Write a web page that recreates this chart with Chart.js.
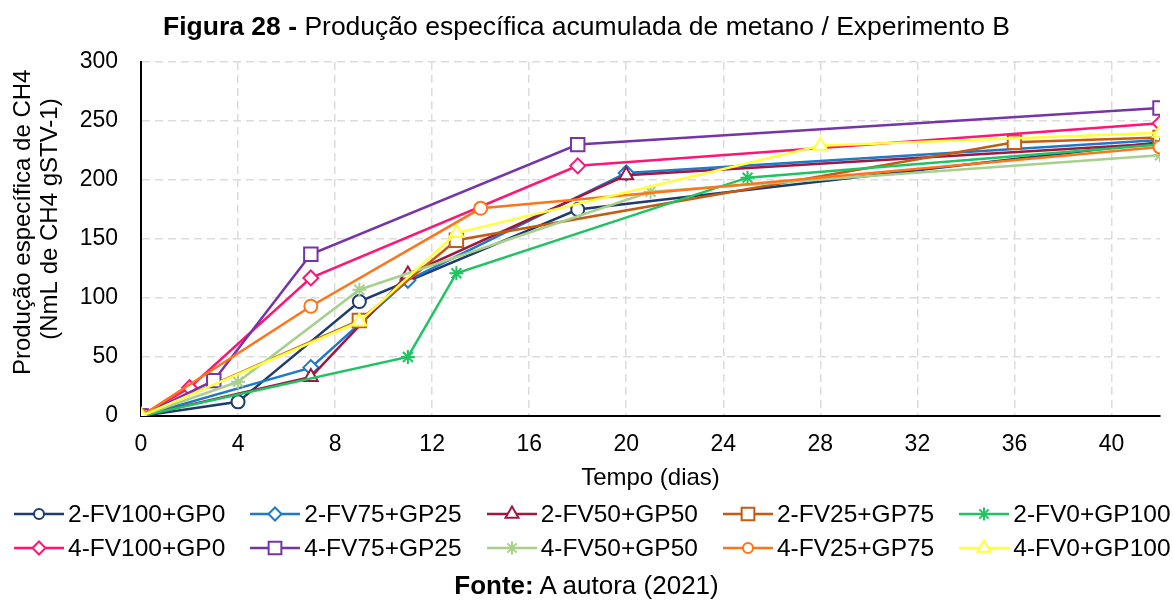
<!DOCTYPE html>
<html lang="pt">
<head>
<meta charset="utf-8">
<title>Figura 28</title>
<script src="https://cdn.jsdelivr.net/npm/chart.js@4.4.0/dist/chart.umd.min.js"></script>
<style>
  body { margin: 0; background: #fff; }
  #wrap { position: relative; width: 1173px; height: 601px; font-family: "Liberation Sans", Arial, sans-serif; color: #000; }
  #titulo { position: absolute; top: 13px; left: 0; width: 100%; text-align: center; font-size: 26.5px; line-height: 26px; }
  #fonte { position: absolute; top: 572px; left: 0; width: 100%; text-align: center; font-size: 26px; line-height: 26px; }
  canvas#grafico { position: absolute; left: 0; top: 0; }
  #legenda { position: absolute; left: 14px; top: 502px; font-size: 24.5px; }
  .linha { display: flex; height: 24px; line-height: 24px; margin-bottom: 10px; white-space: nowrap; }
  .item { display: flex; align-items: center; margin-right: 25px; }
  .item canvas { margin-right: 4px; }
</style>
</head>
<body>
<div id="wrap">
  <canvas id="grafico" width="1173" height="601"></canvas>
  <div id="titulo"><b>Figura 28 -</b> Produção específica acumulada de metano / Experimento B</div>
  <div id="legenda"></div>
  <div id="fonte"><b>Fonte:</b> A autora (2021)</div>
</div>
<script>
// dias de medição (eixo x)
var dias = [0, 2, 3, 4, 7, 9, 11, 13, 14, 18, 20, 21, 25, 28, 36, 42];
var n = null;

// produção acumulada (NmL CH4 / gSTV) por ensaio; null = sem medição naquele dia
var fv100gp0_2 = [0, n, n, 12, n, 97, n, n, n, 175, n, n, n, n, n, 232];
var fv75gp25_2 = [0, n, n, n, 41, n, 115, n, n, n, 206, n, n, n, n, 234];
var fv50gp50_2 = [0, n, n, n, 33, n, 120, n, n, n, 204, n, n, n, n, 231];
var fv25gp75_2 = [0, n, n, n, n, 81, n, 149, n, n, n, n, n, n, 232, 236];
var fv0gp100_2 = [0, n, n, n, n, n, 50, 121, n, n, n, n, 202, n, n, 230];
var fv100gp0_4 = [0, 24, n, n, 117, n, n, n, n, 212, n, n, n, n, n, 248];
var fv75gp25_4 = [0, n, 30, n, 137, n, n, n, n, 230, n, n, n, n, n, 261];
var fv50gp50_4 = [0, n, n, 29, n, 107, n, n, n, n, n, 190, n, n, n, 221];
var fv25gp75_4 = [0, n, n, n, 93, n, n, n, 176, n, n, n, n, n, n, 228];
var fv0gp100_4 = [0, n, n, n, n, 80, n, 155, n, n, n, n, n, 229, n, 240];

var nomes = ['2-FV100+GP0', '2-FV75+GP25', '2-FV50+GP50', '2-FV25+GP75', '2-FV0+GP100',
             '4-FV100+GP0', '4-FV75+GP25', '4-FV50+GP50', '4-FV25+GP75', '4-FV0+GP100'];
var valores = [fv100gp0_2, fv75gp25_2, fv50gp50_2, fv25gp75_2, fv0gp100_2,
               fv100gp0_4, fv75gp25_4, fv50gp50_4, fv25gp75_4, fv0gp100_4];
var cores = ['#1f3a70', '#1f78c8', '#a0173f', '#c55a11', '#1fc462',
             '#ff1573', '#7535a8', '#a8d08d', '#ff7418', '#ffff3c'];
var marcadores = ['circle', 'rectRot', 'triangle', 'rect', 'star',
                  'rectRot', 'rect', 'star', 'circle', 'triangle'];
var raios = { circle: 6.5, rectRot: 7.5, triangle: 8, rect: 9.5, star: 7 };
var raiosLegenda = { circle: 5, rectRot: 6.5, triangle: 7.5, rect: 9, star: 6.5 };

var yTicks = [0, 50, 100, 150, 200, 250, 300];
var xTicks = [0, 4, 8, 12, 16, 20, 24, 28, 32, 36, 40];

// legenda em HTML: linha com o marcador no meio + nome do ensaio
function iconeLegenda(cor, estilo) {
    var c = document.createElement('canvas');
    c.width = 50;
    c.height = 22;
    var ctx = c.getContext('2d');
    ctx.strokeStyle = cor;
    ctx.lineWidth = 2.5;
    ctx.beginPath();
    ctx.moveTo(0, 11);
    ctx.lineTo(50, 11);
    ctx.stroke();
    ctx.fillStyle = '#fff';
    ctx.lineWidth = 2;
    Chart.helpers.drawPoint(ctx, { pointStyle: estilo, radius: raiosLegenda[estilo], borderWidth: 2, rotation: 0 }, 25, 11);
    return c;
}

var legenda = document.getElementById('legenda');
[0, 5].forEach(function (ini) {
    var linha = document.createElement('div');
    linha.className = 'linha';
    for (var i = ini; i < ini + 5; i++) {
        var item = document.createElement('div');
        item.className = 'item';
        item.appendChild(iconeLegenda(cores[i], marcadores[i]));
        var txt = document.createElement('span');
        txt.textContent = nomes[i];
        item.appendChild(txt);
        linha.appendChild(item);
    }
    legenda.appendChild(linha);
});

var datasets = nomes.map(function (nome, i) {
    var pontos = [];
    dias.forEach(function (d, k) {
        if (valores[i][k] !== null) pontos.push({ x: d, y: valores[i][k] });
    });
    return {
        label: nome,
        data: pontos,
        borderColor: cores[i],
        backgroundColor: '#fff',
        borderWidth: 2.5,
        pointStyle: marcadores[i],
        pointRadius: raios[marcadores[i]],
        pointBorderWidth: 2,
        pointBackgroundColor: '#fff',
        pointBorderColor: cores[i],
        tension: 0,
        order: nomes.length - 1 - i
    };
});

var familia = '"Liberation Sans", Arial, sans-serif';

new Chart(document.getElementById('grafico'), {
    type: 'line',
    data: { datasets: datasets },
    options: {
        responsive: false,
        animation: false,
        layout: { padding: { top: 62, right: 13, bottom: 108.6, left: 0 } },
        plugins: {
            tooltip: { enabled: false },
            legend: { display: false }
        },
        scales: {
            x: {
                type: 'linear',
                min: 0,
                max: 42,
                afterFit: function (s) { s.height = 76.4; },
                afterBuildTicks: function (s) { s.ticks = xTicks.map(function (v) { return { value: v }; }); },
                ticks: { color: '#000', font: { family: familia, size: 23 }, padding: 15, maxRotation: 0 },
                grid: { color: '#dcdcdc', lineWidth: 1.5, drawTicks: false },
                border: { display: true, color: '#000', width: 2, dash: [8, 5] },
                title: { display: true, text: 'Tempo (dias)', color: '#000', font: { family: familia, size: 24, lineHeight: 1.2 }, padding: { top: 0, bottom: 0 } }
            },
            y: {
                min: 0,
                max: 300,
                afterFit: function (s) { s.width = 141; },
                afterBuildTicks: function (s) { s.ticks = yTicks.map(function (v) { return { value: v }; }); },
                ticks: { color: '#000', font: { family: familia, size: 23 }, padding: 23 },
                grid: { color: '#dcdcdc', lineWidth: 1.5, drawTicks: false },
                border: { display: true, color: '#000', width: 2, dash: [8, 5] },
                title: {
                    display: true,
                    text: ['     Produção específica de CH4', '      (NmL de CH4 gSTV-1)'],
                    color: '#000',
                    font: { family: familia, size: 24, lineHeight: 1.125 },
                    padding: { top: 9.5, bottom: 0 }
                }
            }
        }
    }
});
</script>
</body>
</html>
